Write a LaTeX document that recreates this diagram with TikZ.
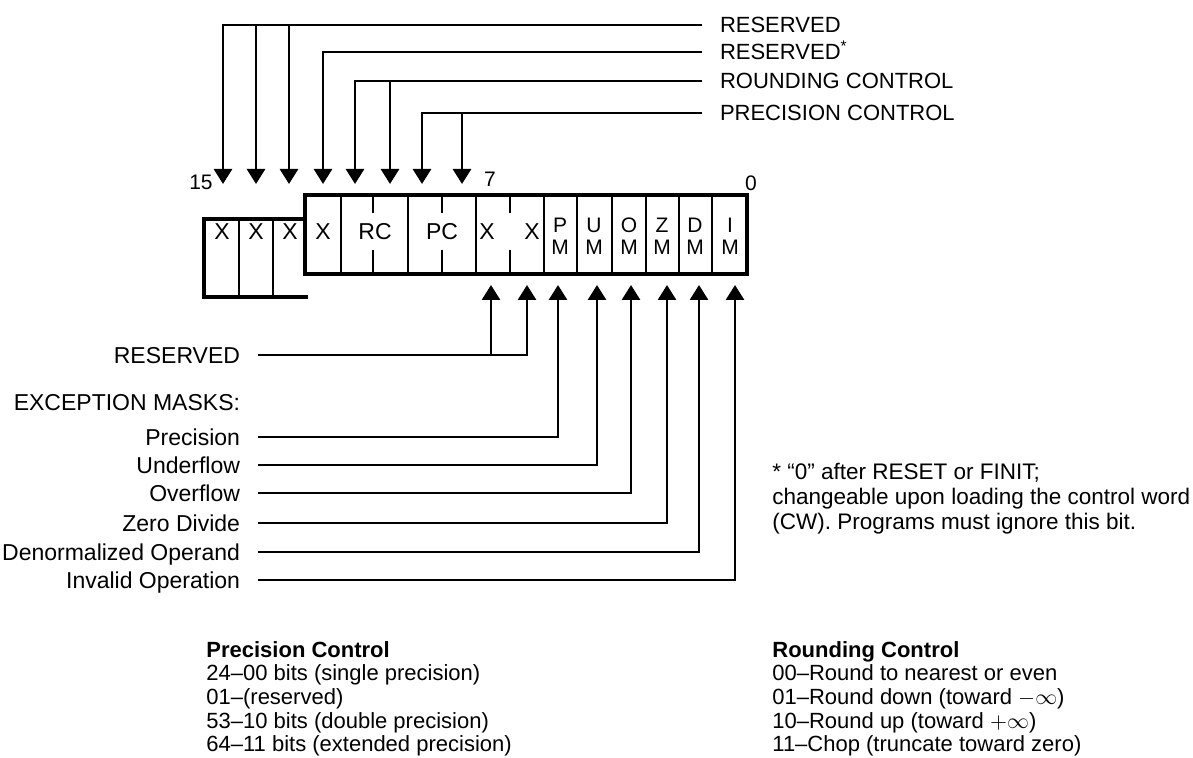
\documentclass[tikz,border=0pt]{standalone}
\usepackage{fontspec}
\setmainfont{Liberation Sans}
\usepackage{tikz}
\usetikzlibrary{arrows.meta,positioning,calc}

\tikzset{
	frame/.style={line width=1.8pt},
	divider/.style={line width=1.4pt},
	lead/.style={line width=1.4pt},
	arr/.style={lead,-{Triangle[width=9pt,length=7.5pt]}},
	cell/.style={inner sep=0pt,font=\fontsize{11.5}{13}\selectfont},
	mcell/.style={inner sep=0pt,align=center,font=\fontsize{10.5}{11}\selectfont},
	lbl/.style={anchor=east,inner sep=0pt,outer xsep=9pt,text height=8.2pt,text depth=0pt,font=\fontsize{11.5}{13}\selectfont},
	toplbl/.style={anchor=west,inner sep=0pt,outer xsep=9pt,text height=7.9pt,text depth=0pt,font=\fontsize{11}{13}\selectfont},
	bitno/.style={inner sep=0pt,font=\fontsize{10.5}{12}\selectfont},
	legend/.style={anchor=north west,inner sep=0pt,align=left,font=\fontsize{11}{11.8}\selectfont},
	fnote/.style={anchor=north west,inner sep=0pt,align=left,font=\fontsize{11.25}{12.5}\selectfont},
}

\begin{document}
\begin{tikzpicture}[x=0.5pt,y=-0.5pt]
	\useasboundingbox (0,0) rectangle (1193,758);

	% register frame
	\draw[frame] (305,195) rectangle (747,274);
	\draw[frame] (305,219) -| (204,297) -- (308,297);
	\draw[divider] (239,219) -- (239,297) (273,219) -- (273,297);
	\draw[divider] (341,195) -- (341,274) (408,195) -- (408,274) (476,195) -- (476,274);
	\draw[divider] (544,195) -- (544,274) (577,195) -- (577,274) (612,195) -- (612,274);
	\draw[divider] (646,195) -- (646,274) (679,195) -- (679,274) (712,195) -- (712,274);
	% half dividers
	\draw[divider] (373,195) -- (373,213) (373,250) -- (373,274);
	\draw[divider] (442,195) -- (442,213) (442,250) -- (442,274);
	\draw[divider] (510,195) -- (510,213) (510,250) -- (510,274);

	% bit fields
	\node[cell] (x15) at (222,232) {X};
	\node[cell] (x14) at (256,232) {X};
	\node[cell] (x13) at (290,232) {X};
	\node[cell] (x12) at (323,232) {X};
	\node[cell] (rc) at (375,232) {RC};
	\node[cell] (pc) at (442,232) {PC};
	\node[cell] (x7) at (487,232) {X};
	\node[cell] (x6) at (532,232) {X};
	\node[mcell] (pm) at (560,236) {P\\M};
	\node[mcell] (um) at (594,236) {U\\M};
	\node[mcell] (om) at (629,236) {O\\M};
	\node[mcell] (zm) at (662,236) {Z\\M};
	\node[mcell] (dm) at (695,236) {D\\M};
	\node[mcell] (im) at (730,236) {I\\M};

	% bit numbers
	\node[bitno] (n15) at (201,182) {15};
	\node[bitno] (n7) at (490,179) {7};
	\node[bitno] (n0) at (751,183) {0};

	% arrow tips
	\coordinate (t15) at (223,184);
	\coordinate (t14) at (256,184);
	\coordinate (t13) at (289,184);
	\coordinate (t12) at (323,184);
	\coordinate (t11) at (355,184);
	\coordinate (t10) at (390,184);
	\coordinate (t9) at (422,184);
	\coordinate (t8) at (462,184);
	\coordinate (b7) at (491,285);
	\coordinate (b6) at (527,285);
	\coordinate (b5) at (558,285);
	\coordinate (b4) at (597,285);
	\coordinate (b3) at (631,285);
	\coordinate (b2) at (667,285);
	\coordinate (b1) at (699,285);
	\coordinate (b0) at (735,285);

	% upper labels
	\node[toplbl] (lres) at (702,25) {RESERVED};
	\node[toplbl] (lresx) at (702,52) {RESERVED\textsuperscript{*}};
	\node[toplbl] (lround) at (702,81) {ROUNDING CONTROL};
	\node[toplbl] (lprecc) at (702,113) {PRECISION CONTROL};

	\draw[arr] (lres.west) -| (t15);
	\draw[arr] (t14 |- lres.west) -- (t14);
	\draw[arr] (t13 |- lres.west) -- (t13);
	\draw[arr] (lresx.west) -| (t12);
	\draw[arr] (lround.west) -| (t11);
	\draw[arr] (t10 |- lround.west) -- (t10);
	\draw[arr] (lprecc.west) -| (t9);
	\draw[arr] (t8 |- lprecc.west) -- (t8);

	% lower labels
	\node[lbl] (lbres) at (258,355) {RESERVED};
	\node[lbl] (lmask) at (258,402) {EXCEPTION MASKS:};
	\node[lbl] (lprec) at (258,437) {Precision};
	\node[lbl] (lunder) at (258,465) {Underflow};
	\node[lbl] (lover) at (258,493) {Overflow};
	\node[lbl] (lzero) at (258,523) {Zero Divide};
	\node[lbl] (ldenorm) at (258,552) {Denormalized Operand};
	\node[lbl] (linval) at (258,580) {Invalid Operation};

	\draw[arr] (lbres.east) -| (b6);
	\draw[arr] (b7 |- lbres.east) -- (b7);
	\draw[arr] (lprec.east) -| (b5);
	\draw[arr] (lunder.east) -| (b4);
	\draw[arr] (lover.east) -| (b3);
	\draw[arr] (lzero.east) -| (b2);
	\draw[arr] (ldenorm.east) -| (b1);
	\draw[arr] (linval.east) -| (b0);

	% footnote
	\node[fnote] (note) at (772,463) {* “0” after RESET or FINIT;\\changeable upon loading the control word\\(CW). Programs must ignore this bit.};

	% legends
	\node[legend] (pclegend) at (206,641) {\textbf{Precision Control}\\24–00 bits (single precision)\\01–(reserved)\\53–10 bits (double precision)\\64–11 bits (extended precision)};
	\node[legend] (rclegend) at (772,641) {\textbf{Rounding Control}\\00–Round to nearest or even\\01–Round down (toward $-\infty$)\\10–Round up (toward $+\infty$)\\11–Chop (truncate toward zero)};
\end{tikzpicture}
\end{document}
